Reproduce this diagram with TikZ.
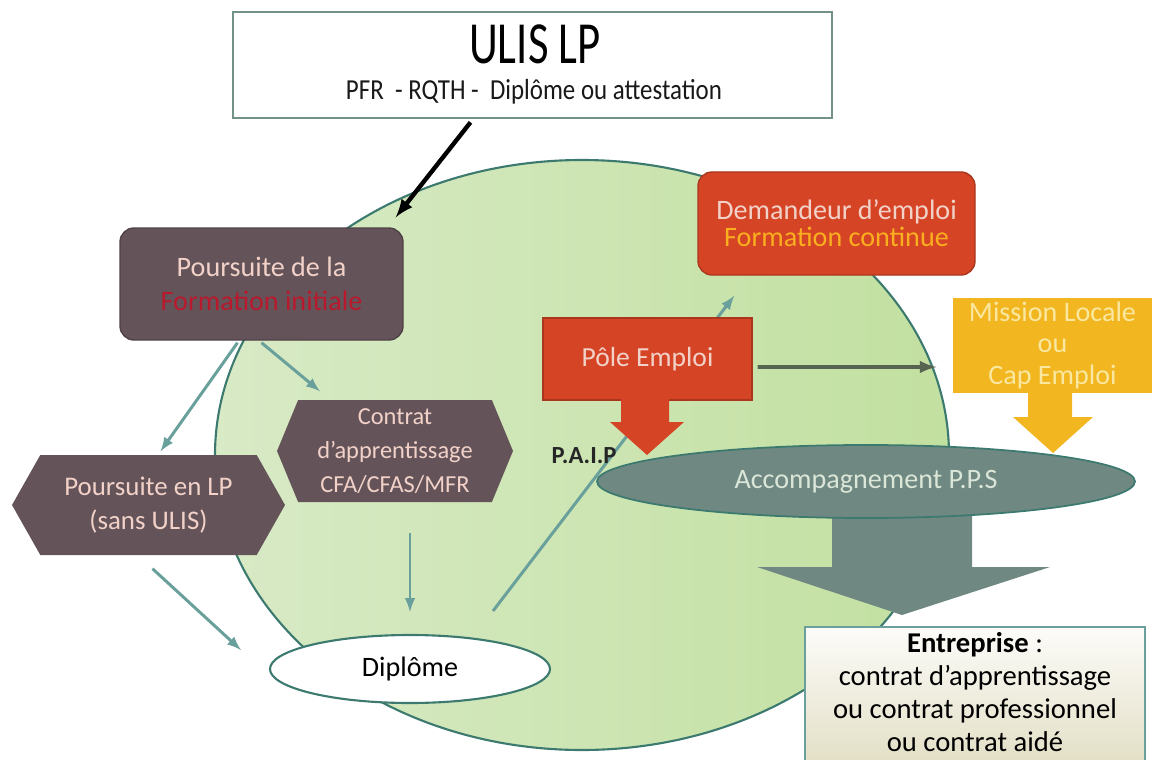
\documentclass[tikz,border=0pt]{standalone}
\usepackage{fontspec}
\setmainfont{Carlito}
\newfontfamily\titrefont[FakeStretch=0.75]{Carlito}
\newfontfamily\soustitrefont[FakeStretch=0.86]{Carlito}
\usetikzlibrary{shapes.geometric,shapes.symbols,calc,arrows.meta}

\begin{document}
\begin{tikzpicture}[x=0.02cm,y=-0.02cm,>=latex,thick,
  fleche/.style={->,line width=1.7pt,draw=flechecol},
  boite/.style={rectangle,rounded corners=8pt,align=center,inner sep=0pt},
  hexa/.style={signal,signal to=west and east,fill=mauve,text=rosepale,align=center,inner sep=0pt},
  texte/.style={inner sep=0pt,anchor=base}]
\def\u{0.02cm}
\definecolor{vertclair}{RGB}{216,234,198}
\definecolor{vertfonce}{RGB}{194,224,160}
\definecolor{bordvert}{RGB}{60,122,112}
\definecolor{mauve}{RGB}{100,84,90}
\definecolor{rosepale}{RGB}{242,210,200}
\definecolor{rougeinit}{RGB}{185,25,45}
\definecolor{rougeboite}{RGB}{214,68,38}
\definecolor{orangetexte}{RGB}{250,175,30}
\definecolor{jaune}{RGB}{242,182,32}
\definecolor{jaunepale}{RGB}{250,232,160}
\definecolor{grispps}{RGB}{112,136,130}
\definecolor{textepps}{RGB}{218,230,216}
\definecolor{flechecol}{RGB}{105,160,155}
\definecolor{flechepole}{RGB}{88,100,82}
\definecolor{cadreulis}{RGB}{115,145,132}
\definecolor{beige}{RGB}{226,222,196}
\useasboundingbox (0,0) rectangle (1152,760);

% la grande zone verte
\node[ellipse,shade,left color=vertclair,right color=vertfonce,draw=bordvert,line width=1.2pt,
  minimum width=734*\u,minimum height=590*\u] (zone) at (582,455) {};

% ULIS LP
\node[rectangle,draw=cadreulis,line width=1.5pt,fill=white,minimum width=599*\u,minimum height=106*\u] (ulis) at (532.5,65) {};
\node[texte,font=\titrefont\fontsize{34}{38}\selectfont] (titre) at (535,64) {ULIS LP};
\node[texte,font=\soustitrefont\fontsize{16.5}{19}\selectfont,text=black!90] (soustitre) at (534,100) {PFR\ \ - RQTH -\ \ Diplôme ou attestation};

% Diplome et demandeur d'emploi
\node[ellipse,draw=bordvert,line width=1.2pt,fill=white,minimum width=280*\u,minimum height=68*\u,inner sep=0pt,
  font=\fontsize{16}{19}\selectfont] (dip) at (410,669) {Diplôme};
\node[boite,fill=rougeboite,draw=rougeboite!80!black,minimum width=277*\u,minimum height=103*\u,
  font=\fontsize{16}{15.5}\selectfont] (dem) at (836.5,223.5)
  {\textcolor{rosepale}{Demandeur d’emploi}\\\textcolor{orangetexte}{Formation continue}};
\draw[fleche] ($(dip.north)+(83,-23)$) -- ($(dem.south west)+(37,20)$);

% Pole emploi
\node[rectangle,fill=rougeboite,draw=rougeboite!80!black,text=rosepale,minimum width=209*\u,minimum height=82*\u,
  font=\fontsize{15.7}{18}\selectfont] (pole) at (647.5,359) {Pôle Emploi};
\fill[rougeboite] (621,399) -- (669,399) -- (669,422) -- (684,422) -- (647,455) -- (610,422) -- (621,422) -- cycle;

% Mission locale
\node[rectangle,fill=jaune,text=jaunepale,align=center,inner sep=0pt,minimum width=199*\u,minimum height=95*\u,
  font=\fontsize{16}{18}\selectfont] (mission) at (1052.5,345.5) {Mission Locale\\ou\\Cap Emploi};
\fill[jaune] (1028,392) -- (1072,392) -- (1072,417) -- (1093,417) -- (1053,453) -- (1013,417) -- (1028,417) -- cycle;
\draw[->,line width=2.2pt,draw=flechepole] ($(pole.east)+(5,8)$) -- ($(mission.west)+(-16,21.5)$);

\node[texte,font=\bfseries\fontsize{14}{16}\selectfont,text=black!85] (paip) at (584,463) {P.A.I.P};

% accompagnement et entreprise
\fill[grispps] (832,515) -- (972,515) -- (972,567) -- (1050,567) -- (902,615) -- (757,567) -- (832,567) -- cycle;
\node[ellipse,fill=grispps,draw=bordvert,line width=1pt,text=textepps,minimum width=538*\u,minimum height=73*\u,
  inner sep=0pt,font=\fontsize{16}{18}\selectfont] (pps) at (866,481.5) {Accompagnement P.P.S};
\node[rectangle,top color=white!90!beige,bottom color=beige,draw=flechecol,line width=0.8pt,
  minimum width=340*\u,minimum height=141*\u] (ent) at (975,697.5) {};
\node[align=center,inner sep=0pt,font=\fontsize{16.3}{18.8}\selectfont] (enttexte) at (975,692)
  {\textbf{Entreprise} :\\contrat d’apprentissage\\ou contrat professionnel\\ou contrat aidé};

% les trois boites mauves
\node[boite,fill=mauve,draw=mauve!80!black,minimum width=283*\u,minimum height=112*\u,
  font=\fontsize{16}{19.3}\selectfont] (fi) at (261.5,284)
  {\textcolor{rosepale}{Poursuite de la}\\\textcolor{rougeinit}{Formation initiale}};
\draw[->,line width=2.5pt] ($(ulis.south)+(-62,3)$) -- ($(fi.north east)+(-8,-10)$);
\node[hexa,signal pointer angle=121,minimum width=273*\u,minimum height=100*\u,
  font=\fontsize{15.3}{19}\selectfont] (lp) at (148.5,505) {Poursuite en LP\\(sans ULIS)};
\node[hexa,signal pointer angle=135,minimum width=236*\u,minimum height=102*\u,
  font=\fontsize{13.9}{19.5}\selectfont] (ca) at (395,451) {Contrat\\d’apprentissage\\CFA/CFAS/MFR};

\draw[fleche] ($(fi.south)+(-24,2)$) -- ($(lp.north)+(12,-3)$);
\draw[fleche] ($(fi.south)+(0,2)$) -- ($(ca.north)+(-75,-8)$);
\draw[fleche] ($(ca.south)+(15,30)$) -- ($(dip.north)+(0,-22)$);
\draw[fleche] ($(lp.south)+(4,13)$) -- ($(dip.west)+(-28,-19)$);
\end{tikzpicture}
\end{document}
